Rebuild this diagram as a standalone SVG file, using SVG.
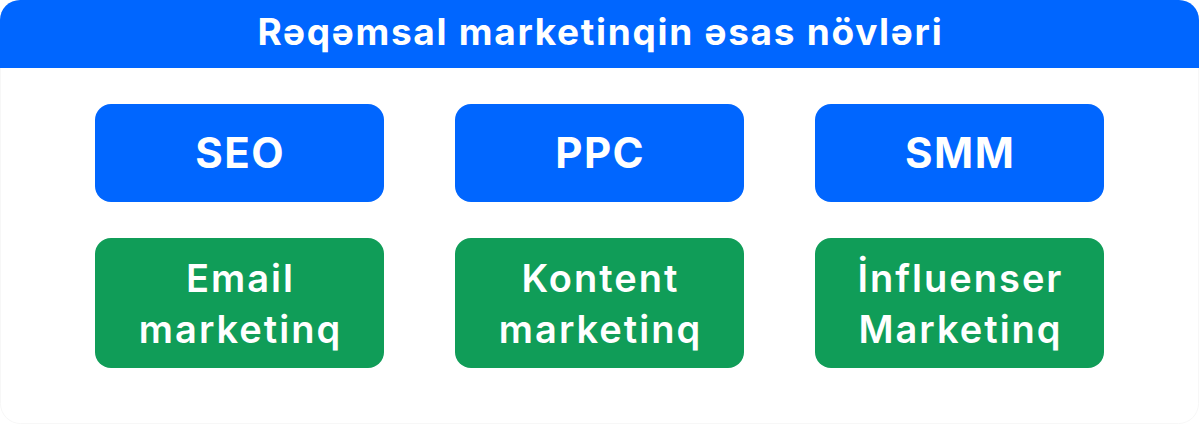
<svg xmlns="http://www.w3.org/2000/svg" width="1199" height="424" viewBox="0 0 1199 424">
<style>
.t{font-family:Inter,"Noto Sans","Liberation Sans",sans-serif;fill:#fff;text-anchor:middle}
.h{font-size:37px;font-weight:700;letter-spacing:1.7px}
.b{font-size:42px;font-weight:700;letter-spacing:1.5px}
.g{font-size:38px;font-weight:600;letter-spacing:2px}
.blue{fill:#0066FF}
.green{fill:#109D58}
</style>
<rect x="0.5" y="0.5" width="1198" height="423" rx="20" fill="#fff" stroke="#f7f7f7"/>
<g id="header">
<path class="blue" d="M0 68 V20 A20 20 0 0 1 20 0 H1179 A20 20 0 0 1 1199 20 V68 Z"/>
<text class="t h" x="600.4" y="45">Rəqəmsal marketinqin əsas növləri</text>
</g>
<g id="seo"><rect class="blue" x="95" y="104" width="289" height="98" rx="16"/><text class="t b" x="240.2" y="168">SEO</text></g>
<g id="ppc"><rect class="blue" x="455" y="104" width="289" height="98" rx="16"/><text class="t b" x="600.2" y="168">PPC</text></g>
<g id="smm"><rect class="blue" x="815" y="104" width="289" height="98" rx="16"/><text class="t b" x="960.2" y="168">SMM</text></g>
<g id="email"><rect class="green" x="95" y="238" width="289" height="130" rx="16"/><text class="t g" x="240.5" y="292">Email</text><text class="t g" x="240.5" y="343">marketinq</text></g>
<g id="kontent"><rect class="green" x="455" y="238" width="289" height="130" rx="16"/><text class="t g" x="600.5" y="292">Kontent</text><text class="t g" x="600.5" y="343">marketinq</text></g>
<g id="influenser"><rect class="green" x="815" y="238" width="289" height="130" rx="16"/><text class="t g" x="960.5" y="292">İnfluenser</text><text class="t g" x="960.5" y="343">Marketinq</text></g>
<g id="connectors"></g>
</svg>
